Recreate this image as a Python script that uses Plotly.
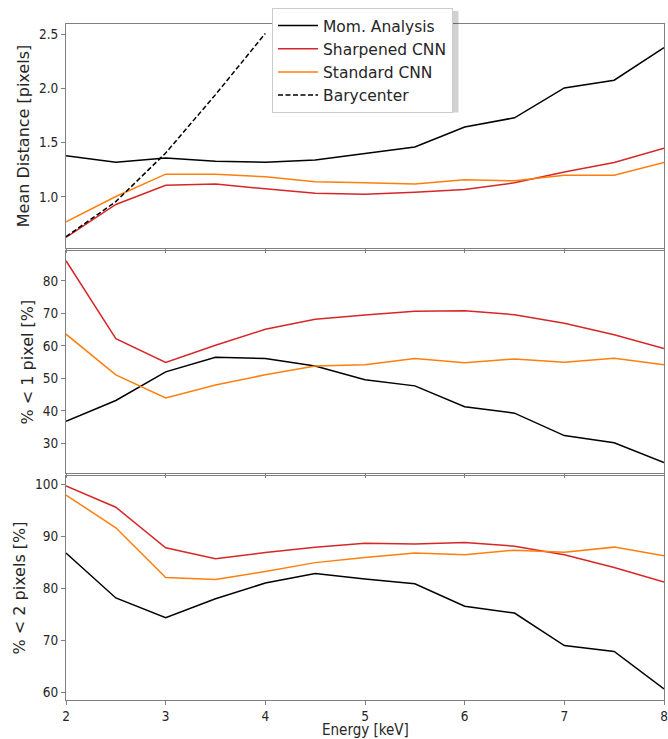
import plotly.graph_objects as go
from plotly.subplots import make_subplots

energy = [2.0, 2.5, 3.0, 3.5, 4.0, 4.5, 5.0, 5.5, 6.0, 6.5, 7.0, 7.5, 8.0]
bary_energy = [2.0, 2.5, 3.0, 3.5, 4.0]

# Mean distance [pixels]
mom_dist = [1.38, 1.32, 1.36, 1.33, 1.32, 1.34, 1.40, 1.46, 1.645, 1.73, 2.006, 2.077, 2.377]
sharp_dist = [0.627, 0.93, 1.108, 1.12, 1.074, 1.034, 1.025, 1.043, 1.068, 1.13, 1.23, 1.318, 1.45]
std_dist = [0.77, 1.003, 1.21, 1.21, 1.185, 1.14, 1.13, 1.118, 1.157, 1.148, 1.2, 1.2, 1.318]
bary_dist = [0.632, 0.956, 1.405, 1.944, 2.509]

# % < 1 pixel
mom_p1 = [36.8, 43.2, 52.0, 56.5, 56.1, 53.8, 49.6, 47.7, 41.3, 39.3, 32.4, 30.2, 24.1]
sharp_p1 = [86.2, 62.2, 54.9, 60.2, 65.1, 68.2, 69.5, 70.7, 70.8, 69.6, 67.0, 63.4, 59.2]
std_p1 = [63.6, 51.1, 44.0, 48.0, 51.1, 53.8, 54.2, 56.1, 54.8, 56.0, 55.0, 56.2, 54.2]

# % < 2 pixels
mom_p2 = [86.83, 78.2, 74.4, 78.06, 81.07, 82.9, 81.84, 80.94, 76.6, 75.3, 69.04, 67.9, 60.7]
sharp_p2 = [99.75, 95.66, 87.85, 85.74, 86.95, 87.98, 88.75, 88.56, 88.87, 88.17, 86.5, 84.07, 81.26]
std_p2 = [98.0, 91.7, 82.15, 81.77, 83.3, 85.0, 86.0, 86.83, 86.5, 87.4, 87.0, 87.98, 86.3]

x_ticks = [2, 3, 4, 5, 6, 7, 8]
x_title = "Energy [keV]"

BLACK = "#000000"
RED = "#d62728"
ORANGE = "#ff7f0e"
LW = 1.5

fig = make_subplots(rows=3, cols=1, shared_xaxes=True, vertical_spacing=0.004)

def add(row, x, y, name, color, dash="solid", show=False):
    fig.add_trace(go.Scatter(x=x, y=y, mode="lines", name=name,
                             line=dict(color=color, width=LW, dash=dash),
                             showlegend=show, legendgroup=name), row=row, col=1)

add(1, energy, mom_dist, "Mom. Analysis", BLACK, show=True)
add(1, energy, sharp_dist, "Sharpened CNN", RED, show=True)
add(1, energy, std_dist, "Standard CNN", ORANGE, show=True)
add(1, bary_energy, bary_dist, "Barycenter", BLACK, dash="5px,2.5px", show=True)

add(2, energy, mom_p1, "Mom. Analysis", BLACK)
add(2, energy, sharp_p1, "Sharpened CNN", RED)
add(2, energy, std_p1, "Standard CNN", ORANGE)

add(3, energy, mom_p2, "Mom. Analysis", BLACK)
add(3, energy, sharp_p2, "Sharpened CNN", RED)
add(3, energy, std_p2, "Standard CNN", ORANGE)

FONT = "DejaVu Sans"
FONT_C = "DejaVu Sans Condensed, DejaVu Sans"
TXT = "#262626"
SPINE = "#808080"

axis_common = dict(showline=True, mirror=True, linecolor=SPINE, linewidth=1,
                   ticks="outside", ticklen=4, tickcolor=SPINE, tickwidth=1,
                   showgrid=False, zeroline=False, automargin=False,
                   ticklabeloverflow="allow",
                   tickfont=dict(family=FONT_C, size=13.5, color=TXT))

for r in (1, 2, 3):
    fig.update_xaxes(range=[2, 8], tickvals=x_ticks, row=r, col=1, **axis_common)

fig.update_yaxes(range=[0.528, 2.596], tickvals=[1.0, 1.5, 2.0, 2.5], tickformat=".1f",
                 title=dict(text="Mean Distance [pixels]", font=dict(family=FONT, size=16, color=TXT), standoff=5),
                 row=1, col=1, **axis_common)
fig.update_yaxes(range=[20.8, 89.2], tickvals=[30, 40, 50, 60, 70, 80],
                 title=dict(text="% < 1 pixel [%]", font=dict(family=FONT, size=16, color=TXT), standoff=5),
                 row=2, col=1, **axis_common)
fig.update_yaxes(range=[58.56, 101.67], tickvals=[60, 70, 80, 90, 100],
                 title=dict(text="% < 2 pixels [%]", font=dict(family=FONT, size=16, color=TXT), standoff=5),
                 row=3, col=1, **axis_common)

# domains to match panel positions
H = 676.0
fig.update_layout(
    yaxis=dict(domain=[(700 - 248) / H, 1.0]),
    yaxis2=dict(domain=[(700 - 473.3) / H, (700 - 251) / H]),
    yaxis3=dict(domain=[0.0, (700 - 476) / H]),
)

W = 598.0
def px_x(p):
    return (p - 66) / W
def px_y(p):
    return (700 - p) / H

# x-axis title as a text placed under the tick labels
fig.add_annotation(text=x_title, xref="paper", yref="paper", x=0.5, y=px_y(729.5),
                   xanchor="center", yanchor="middle", showarrow=False,
                   font=dict(family=FONT_C, size=15, color=TXT))

# legend and its shadow (pixel geometry of the figure)
lx0, lx1, ly0, ly1 = 272, 456, 8, 110
fig.add_shape(type="rect", xref="paper", yref="paper",
              x0=px_x(lx0 + 3), x1=px_x(lx1 + 2.5), y0=px_y(ly1 + 2.5), y1=px_y(ly0 + 3),
              fillcolor="rgba(0,0,0,0.18)", line=dict(width=0), layer="above")

fig.update_layout(
    width=668, height=739,
    margin=dict(l=66, r=4, t=24, b=39, autoexpand=False),
    paper_bgcolor="white", plot_bgcolor="white",
    font=dict(family=FONT, size=13, color=TXT),
    legend=dict(x=px_x(lx0), y=px_y(ly0), xanchor="left", yanchor="top",
                bgcolor="white", bordercolor="#cccccc", borderwidth=1,
                font=dict(family=FONT, size=15.5, color=TXT),
                itemwidth=40, tracegroupgap=0),
    showlegend=True,
)

fig.write_html("out.html", config={"displayModeBar": False},
               post_script="document.body.style.margin='0';document.body.style.overflow='hidden';")
